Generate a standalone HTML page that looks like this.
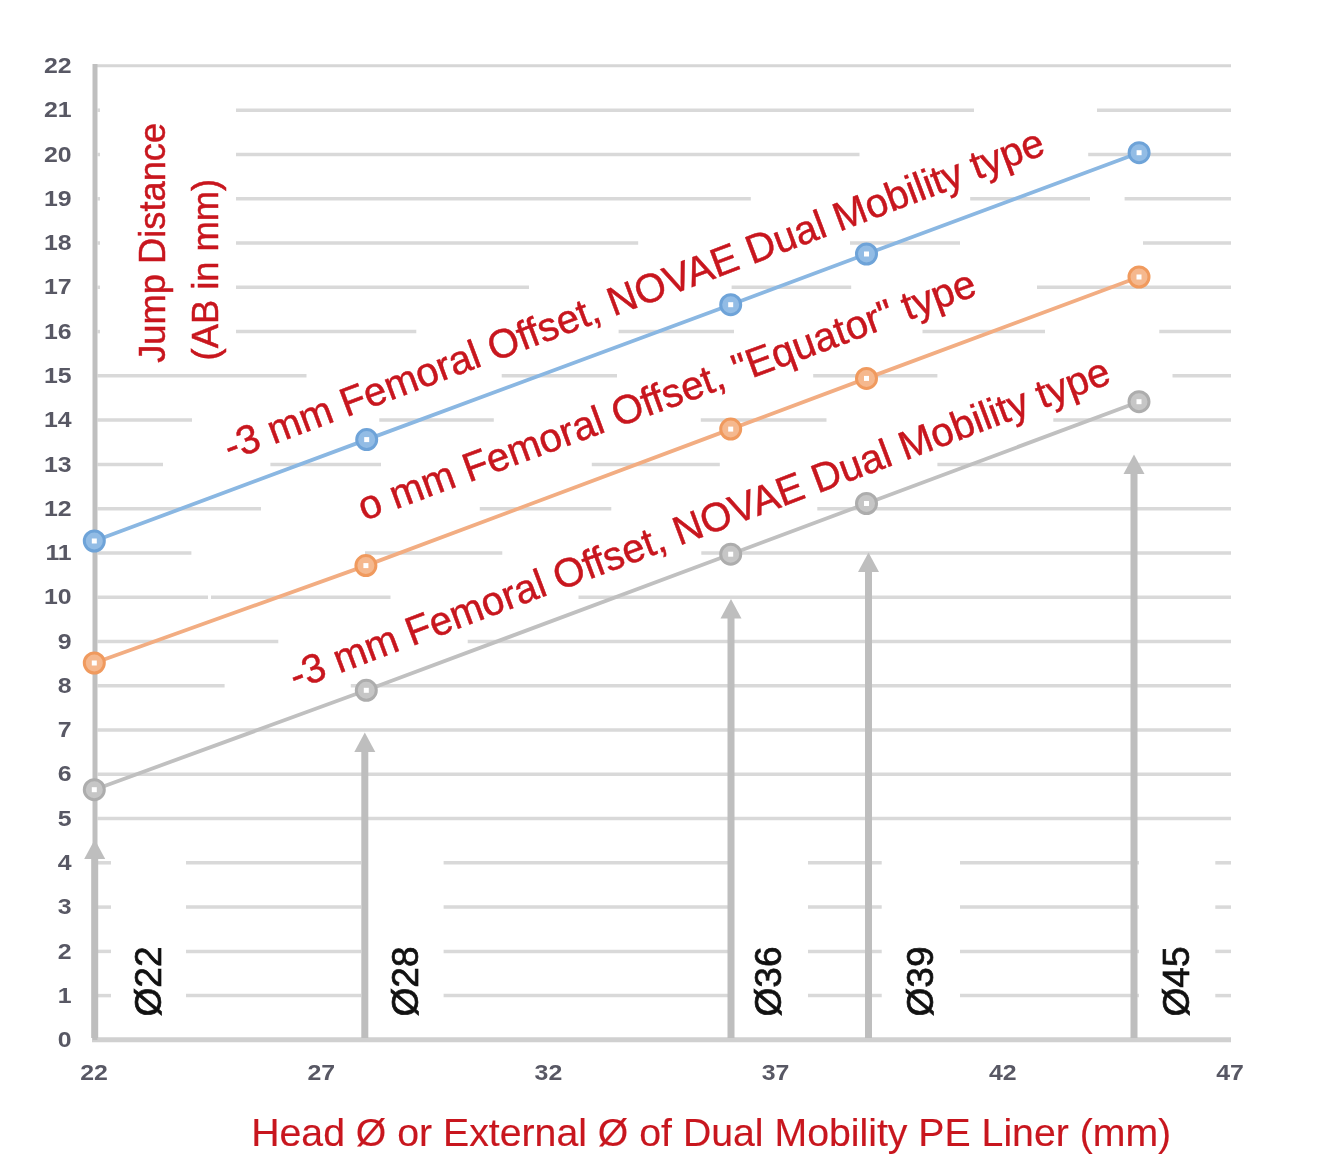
<!DOCTYPE html>
<html><head><meta charset="utf-8"><style>
html,body{margin:0;padding:0;background:#fff;}
body{width:1329px;height:1172px;overflow:hidden;}
svg{display:block;filter:blur(0.5px);}
text{font-family:"Liberation Sans",sans-serif;}
</style></head><body>
<svg width="1329" height="1172" viewBox="0 0 1329 1172">
<rect width="1329" height="1172" fill="#fff"/>

<line x1="97.5" y1="995.6" x2="111" y2="995.6" stroke="#d9d9d9" stroke-width="3.5"/>
<line x1="186" y1="995.6" x2="361" y2="995.6" stroke="#d9d9d9" stroke-width="3.5"/>
<line x1="443.6" y1="995.6" x2="728" y2="995.6" stroke="#d9d9d9" stroke-width="3.5"/>
<line x1="808" y1="995.6" x2="881.7" y2="995.6" stroke="#d9d9d9" stroke-width="3.5"/>
<line x1="960" y1="995.6" x2="1139" y2="995.6" stroke="#d9d9d9" stroke-width="3.5"/>
<line x1="1215.3" y1="995.6" x2="1231" y2="995.6" stroke="#d9d9d9" stroke-width="3.5"/>
<line x1="97.5" y1="951.4" x2="111" y2="951.4" stroke="#d9d9d9" stroke-width="3.5"/>
<line x1="186" y1="951.4" x2="361" y2="951.4" stroke="#d9d9d9" stroke-width="3.5"/>
<line x1="443.6" y1="951.4" x2="728" y2="951.4" stroke="#d9d9d9" stroke-width="3.5"/>
<line x1="808" y1="951.4" x2="881.7" y2="951.4" stroke="#d9d9d9" stroke-width="3.5"/>
<line x1="960" y1="951.4" x2="1139" y2="951.4" stroke="#d9d9d9" stroke-width="3.5"/>
<line x1="1215.3" y1="951.4" x2="1231" y2="951.4" stroke="#d9d9d9" stroke-width="3.5"/>
<line x1="97.5" y1="907.1" x2="111" y2="907.1" stroke="#d9d9d9" stroke-width="3.5"/>
<line x1="186" y1="907.1" x2="361" y2="907.1" stroke="#d9d9d9" stroke-width="3.5"/>
<line x1="443.6" y1="907.1" x2="728" y2="907.1" stroke="#d9d9d9" stroke-width="3.5"/>
<line x1="808" y1="907.1" x2="881.7" y2="907.1" stroke="#d9d9d9" stroke-width="3.5"/>
<line x1="960" y1="907.1" x2="1139" y2="907.1" stroke="#d9d9d9" stroke-width="3.5"/>
<line x1="1215.3" y1="907.1" x2="1231" y2="907.1" stroke="#d9d9d9" stroke-width="3.5"/>
<line x1="97.5" y1="862.8" x2="111" y2="862.8" stroke="#d9d9d9" stroke-width="3.5"/>
<line x1="186" y1="862.8" x2="361" y2="862.8" stroke="#d9d9d9" stroke-width="3.5"/>
<line x1="443.6" y1="862.8" x2="728" y2="862.8" stroke="#d9d9d9" stroke-width="3.5"/>
<line x1="808" y1="862.8" x2="881.7" y2="862.8" stroke="#d9d9d9" stroke-width="3.5"/>
<line x1="960" y1="862.8" x2="1139" y2="862.8" stroke="#d9d9d9" stroke-width="3.5"/>
<line x1="1215.3" y1="862.8" x2="1231" y2="862.8" stroke="#d9d9d9" stroke-width="3.5"/>
<line x1="97.5" y1="818.6" x2="1231" y2="818.6" stroke="#d9d9d9" stroke-width="3.5"/>
<line x1="97.5" y1="774.3" x2="1231" y2="774.3" stroke="#d9d9d9" stroke-width="3.5"/>
<line x1="97.5" y1="730.0" x2="1231" y2="730.0" stroke="#d9d9d9" stroke-width="3.5"/>
<line x1="97.5" y1="685.7" x2="224.6" y2="685.7" stroke="#d9d9d9" stroke-width="3.5"/>
<line x1="350.8" y1="685.7" x2="1231" y2="685.7" stroke="#d9d9d9" stroke-width="3.5"/>
<line x1="97.5" y1="641.5" x2="278.3" y2="641.5" stroke="#d9d9d9" stroke-width="3.5"/>
<line x1="467.7" y1="641.5" x2="1231" y2="641.5" stroke="#d9d9d9" stroke-width="3.5"/>
<line x1="97.5" y1="597.2" x2="208" y2="597.2" stroke="#d9d9d9" stroke-width="3.5"/>
<line x1="211" y1="597.2" x2="390.5" y2="597.2" stroke="#d9d9d9" stroke-width="3.5"/>
<line x1="578.5" y1="597.2" x2="1231" y2="597.2" stroke="#d9d9d9" stroke-width="3.5"/>
<line x1="97.5" y1="552.9" x2="191.4" y2="552.9" stroke="#d9d9d9" stroke-width="3.5"/>
<line x1="365" y1="552.9" x2="502.3" y2="552.9" stroke="#d9d9d9" stroke-width="3.5"/>
<line x1="701.3" y1="552.9" x2="1231" y2="552.9" stroke="#d9d9d9" stroke-width="3.5"/>
<line x1="97.5" y1="508.7" x2="261" y2="508.7" stroke="#d9d9d9" stroke-width="3.5"/>
<line x1="479.8" y1="508.7" x2="611.3" y2="508.7" stroke="#d9d9d9" stroke-width="3.5"/>
<line x1="817.3" y1="508.7" x2="1231" y2="508.7" stroke="#d9d9d9" stroke-width="3.5"/>
<line x1="97.5" y1="464.4" x2="163" y2="464.4" stroke="#d9d9d9" stroke-width="3.5"/>
<line x1="270.4" y1="464.4" x2="381" y2="464.4" stroke="#d9d9d9" stroke-width="3.5"/>
<line x1="591.8" y1="464.4" x2="719.8" y2="464.4" stroke="#d9d9d9" stroke-width="3.5"/>
<line x1="937.4" y1="464.4" x2="1231" y2="464.4" stroke="#d9d9d9" stroke-width="3.5"/>
<line x1="97.5" y1="420.1" x2="192" y2="420.1" stroke="#d9d9d9" stroke-width="3.5"/>
<line x1="379.3" y1="420.1" x2="493.8" y2="420.1" stroke="#d9d9d9" stroke-width="3.5"/>
<line x1="700.8" y1="420.1" x2="826.5" y2="420.1" stroke="#d9d9d9" stroke-width="3.5"/>
<line x1="1053.3" y1="420.1" x2="1231" y2="420.1" stroke="#d9d9d9" stroke-width="3.5"/>
<line x1="97.5" y1="375.8" x2="306.5" y2="375.8" stroke="#d9d9d9" stroke-width="3.5"/>
<line x1="501.7" y1="375.8" x2="617" y2="375.8" stroke="#d9d9d9" stroke-width="3.5"/>
<line x1="813.2" y1="375.8" x2="937.4" y2="375.8" stroke="#d9d9d9" stroke-width="3.5"/>
<line x1="1172.5" y1="375.8" x2="1231" y2="375.8" stroke="#d9d9d9" stroke-width="3.5"/>
<line x1="97.5" y1="331.6" x2="100" y2="331.6" stroke="#d9d9d9" stroke-width="3.5"/>
<line x1="236" y1="331.6" x2="416.3" y2="331.6" stroke="#d9d9d9" stroke-width="3.5"/>
<line x1="618.6" y1="331.6" x2="734" y2="331.6" stroke="#d9d9d9" stroke-width="3.5"/>
<line x1="922.5" y1="331.6" x2="1045" y2="331.6" stroke="#d9d9d9" stroke-width="3.5"/>
<line x1="1159.3" y1="331.6" x2="1231" y2="331.6" stroke="#d9d9d9" stroke-width="3.5"/>
<line x1="97.5" y1="287.3" x2="100" y2="287.3" stroke="#d9d9d9" stroke-width="3.5"/>
<line x1="236" y1="287.3" x2="529" y2="287.3" stroke="#d9d9d9" stroke-width="3.5"/>
<line x1="731.6" y1="287.3" x2="851.2" y2="287.3" stroke="#d9d9d9" stroke-width="3.5"/>
<line x1="1037" y1="287.3" x2="1231" y2="287.3" stroke="#d9d9d9" stroke-width="3.5"/>
<line x1="97.5" y1="243.0" x2="100" y2="243.0" stroke="#d9d9d9" stroke-width="3.5"/>
<line x1="236" y1="243.0" x2="638.2" y2="243.0" stroke="#d9d9d9" stroke-width="3.5"/>
<line x1="850" y1="243.0" x2="960" y2="243.0" stroke="#d9d9d9" stroke-width="3.5"/>
<line x1="1143" y1="243.0" x2="1231" y2="243.0" stroke="#d9d9d9" stroke-width="3.5"/>
<line x1="97.5" y1="198.8" x2="100" y2="198.8" stroke="#d9d9d9" stroke-width="3.5"/>
<line x1="236" y1="198.8" x2="750.8" y2="198.8" stroke="#d9d9d9" stroke-width="3.5"/>
<line x1="970.2" y1="198.8" x2="1090" y2="198.8" stroke="#d9d9d9" stroke-width="3.5"/>
<line x1="1124.6" y1="198.8" x2="1231" y2="198.8" stroke="#d9d9d9" stroke-width="3.5"/>
<line x1="97.5" y1="154.5" x2="100" y2="154.5" stroke="#d9d9d9" stroke-width="3.5"/>
<line x1="236" y1="154.5" x2="859.5" y2="154.5" stroke="#d9d9d9" stroke-width="3.5"/>
<line x1="1088.2" y1="154.5" x2="1231" y2="154.5" stroke="#d9d9d9" stroke-width="3.5"/>
<line x1="97.5" y1="110.2" x2="100" y2="110.2" stroke="#d9d9d9" stroke-width="3.5"/>
<line x1="236" y1="110.2" x2="974" y2="110.2" stroke="#d9d9d9" stroke-width="3.5"/>
<line x1="1097" y1="110.2" x2="1231" y2="110.2" stroke="#d9d9d9" stroke-width="3.5"/>
<line x1="93" y1="65.8" x2="1231" y2="65.8" stroke="#d6d6d6" stroke-width="3"/>
<line x1="92" y1="1039.7" x2="1231" y2="1039.7" stroke="#d0d0d0" stroke-width="5"/>
<line x1="95" y1="64" x2="95" y2="1040" stroke="#bfbfbf" stroke-width="5"/>
<rect x="91.2" y="858.1" width="7" height="179.89999999999998" fill="#bebebe"/>
<polygon points="94.7,839.6 105.2,859.1 84.2,859.1" fill="#bebebe"/>
<rect x="361.3" y="750.9" width="7" height="287.1" fill="#bebebe"/>
<polygon points="364.8,732.4 375.3,751.9 354.3,751.9" fill="#bebebe"/>
<rect x="727.5" y="617.4" width="7" height="420.6" fill="#bebebe"/>
<polygon points="731,598.9 741.5,618.4 720.5,618.4" fill="#bebebe"/>
<rect x="865.0" y="571.0" width="7" height="467.0" fill="#bebebe"/>
<polygon points="868.5,552.5 879.0,572.0 858.0,572.0" fill="#bebebe"/>
<rect x="1130.5" y="473.0" width="7" height="565.0" fill="#bebebe"/>
<polygon points="1134,454.5 1144.5,474.0 1123.5,474.0" fill="#bebebe"/>
<polyline points="94.3,541 366.7,439.6 730.7,304.7 866.5,254 1139.1,152.7" fill="none" stroke="#8ab7e2" stroke-width="3.8" stroke-linejoin="round"/>
<circle cx="94.3" cy="541" r="10" fill="#92bce5" stroke="#6ea3d8" stroke-width="3"/>
<rect x="91.8" y="538.5" width="5" height="5" fill="#fff"/>
<circle cx="366.7" cy="439.6" r="10" fill="#92bce5" stroke="#6ea3d8" stroke-width="3"/>
<rect x="364.2" y="437.1" width="5" height="5" fill="#fff"/>
<circle cx="730.7" cy="304.7" r="10" fill="#92bce5" stroke="#6ea3d8" stroke-width="3"/>
<rect x="728.2" y="302.2" width="5" height="5" fill="#fff"/>
<circle cx="866.5" cy="254" r="10" fill="#92bce5" stroke="#6ea3d8" stroke-width="3"/>
<rect x="864.0" y="251.5" width="5" height="5" fill="#fff"/>
<circle cx="1139.1" cy="152.7" r="10" fill="#92bce5" stroke="#6ea3d8" stroke-width="3"/>
<rect x="1136.6" y="150.2" width="5" height="5" fill="#fff"/>
<polyline points="94.3,663 365.9,565.6 730.7,429.1 866.5,378.4 1139,277" fill="none" stroke="#f2ad82" stroke-width="3.8" stroke-linejoin="round"/>
<circle cx="94.3" cy="663" r="10" fill="#f5b88e" stroke="#f09a5e" stroke-width="3"/>
<rect x="91.8" y="660.5" width="5" height="5" fill="#fff"/>
<circle cx="365.9" cy="565.6" r="10" fill="#f5b88e" stroke="#f09a5e" stroke-width="3"/>
<rect x="363.4" y="563.1" width="5" height="5" fill="#fff"/>
<circle cx="730.7" cy="429.1" r="10" fill="#f5b88e" stroke="#f09a5e" stroke-width="3"/>
<rect x="728.2" y="426.6" width="5" height="5" fill="#fff"/>
<circle cx="866.5" cy="378.4" r="10" fill="#f5b88e" stroke="#f09a5e" stroke-width="3"/>
<rect x="864.0" y="375.9" width="5" height="5" fill="#fff"/>
<circle cx="1139" cy="277" r="10" fill="#f5b88e" stroke="#f09a5e" stroke-width="3"/>
<rect x="1136.5" y="274.5" width="5" height="5" fill="#fff"/>
<polyline points="94.3,789.7 366.3,690.3 730.7,554.2 866.5,503.5 1139,401.7" fill="none" stroke="#c0c0c0" stroke-width="3.8" stroke-linejoin="round"/>
<circle cx="94.3" cy="789.7" r="10" fill="#c6c6c6" stroke="#adadad" stroke-width="3"/>
<rect x="91.8" y="787.2" width="5" height="5" fill="#fff"/>
<circle cx="366.3" cy="690.3" r="10" fill="#c6c6c6" stroke="#adadad" stroke-width="3"/>
<rect x="363.8" y="687.8" width="5" height="5" fill="#fff"/>
<circle cx="730.7" cy="554.2" r="10" fill="#c6c6c6" stroke="#adadad" stroke-width="3"/>
<rect x="728.2" y="551.7" width="5" height="5" fill="#fff"/>
<circle cx="866.5" cy="503.5" r="10" fill="#c6c6c6" stroke="#adadad" stroke-width="3"/>
<rect x="864.0" y="501.0" width="5" height="5" fill="#fff"/>
<circle cx="1139" cy="401.7" r="10" fill="#c6c6c6" stroke="#adadad" stroke-width="3"/>
<rect x="1136.5" y="399.2" width="5" height="5" fill="#fff"/>
<text transform="translate(71.7,1047.0) scale(1.13,1)" text-anchor="end" font-size="22" font-weight="bold" fill="#585864">0</text>
<text transform="translate(71.7,1002.7) scale(1.13,1)" text-anchor="end" font-size="22" font-weight="bold" fill="#585864">1</text>
<text transform="translate(71.7,958.5) scale(1.13,1)" text-anchor="end" font-size="22" font-weight="bold" fill="#585864">2</text>
<text transform="translate(71.7,914.2) scale(1.13,1)" text-anchor="end" font-size="22" font-weight="bold" fill="#585864">3</text>
<text transform="translate(71.7,869.9) scale(1.13,1)" text-anchor="end" font-size="22" font-weight="bold" fill="#585864">4</text>
<text transform="translate(71.7,825.6) scale(1.13,1)" text-anchor="end" font-size="22" font-weight="bold" fill="#585864">5</text>
<text transform="translate(71.7,781.4) scale(1.13,1)" text-anchor="end" font-size="22" font-weight="bold" fill="#585864">6</text>
<text transform="translate(71.7,737.1) scale(1.13,1)" text-anchor="end" font-size="22" font-weight="bold" fill="#585864">7</text>
<text transform="translate(71.7,692.8) scale(1.13,1)" text-anchor="end" font-size="22" font-weight="bold" fill="#585864">8</text>
<text transform="translate(71.7,648.6) scale(1.13,1)" text-anchor="end" font-size="22" font-weight="bold" fill="#585864">9</text>
<text transform="translate(71.7,604.3) scale(1.13,1)" text-anchor="end" font-size="22" font-weight="bold" fill="#585864">10</text>
<text transform="translate(71.7,560.0) scale(1.13,1)" text-anchor="end" font-size="22" font-weight="bold" fill="#585864">11</text>
<text transform="translate(71.7,515.8) scale(1.13,1)" text-anchor="end" font-size="22" font-weight="bold" fill="#585864">12</text>
<text transform="translate(71.7,471.5) scale(1.13,1)" text-anchor="end" font-size="22" font-weight="bold" fill="#585864">13</text>
<text transform="translate(71.7,427.2) scale(1.13,1)" text-anchor="end" font-size="22" font-weight="bold" fill="#585864">14</text>
<text transform="translate(71.7,382.9) scale(1.13,1)" text-anchor="end" font-size="22" font-weight="bold" fill="#585864">15</text>
<text transform="translate(71.7,338.7) scale(1.13,1)" text-anchor="end" font-size="22" font-weight="bold" fill="#585864">16</text>
<text transform="translate(71.7,294.4) scale(1.13,1)" text-anchor="end" font-size="22" font-weight="bold" fill="#585864">17</text>
<text transform="translate(71.7,250.1) scale(1.13,1)" text-anchor="end" font-size="22" font-weight="bold" fill="#585864">18</text>
<text transform="translate(71.7,205.9) scale(1.13,1)" text-anchor="end" font-size="22" font-weight="bold" fill="#585864">19</text>
<text transform="translate(71.7,161.6) scale(1.13,1)" text-anchor="end" font-size="22" font-weight="bold" fill="#585864">20</text>
<text transform="translate(71.7,117.3) scale(1.13,1)" text-anchor="end" font-size="22" font-weight="bold" fill="#585864">21</text>
<text transform="translate(71.7,73.1) scale(1.13,1)" text-anchor="end" font-size="22" font-weight="bold" fill="#585864">22</text>
<text transform="translate(94.0,1079.7) scale(1.13,1)" text-anchor="middle" font-size="22" font-weight="bold" fill="#585864">22</text>
<text transform="translate(321.2,1079.7) scale(1.13,1)" text-anchor="middle" font-size="22" font-weight="bold" fill="#585864">27</text>
<text transform="translate(548.4,1079.7) scale(1.13,1)" text-anchor="middle" font-size="22" font-weight="bold" fill="#585864">32</text>
<text transform="translate(775.6,1079.7) scale(1.13,1)" text-anchor="middle" font-size="22" font-weight="bold" fill="#585864">37</text>
<text transform="translate(1002.8,1079.7) scale(1.13,1)" text-anchor="middle" font-size="22" font-weight="bold" fill="#585864">42</text>
<text transform="translate(1230.0,1079.7) scale(1.13,1)" text-anchor="middle" font-size="22" font-weight="bold" fill="#585864">47</text>
<text transform="translate(165.4,362.8) rotate(-90)" font-size="36" fill="#c8161e" stroke="#c8161e" stroke-width="0.5" textLength="240" lengthAdjust="spacingAndGlyphs">Jump Distance</text>
<text transform="translate(218,360.4) rotate(-90)" font-size="36" fill="#c8161e" stroke="#c8161e" stroke-width="0.5" textLength="181.6" lengthAdjust="spacingAndGlyphs">(AB in mm)</text>
<text transform="translate(161.3,1016.5) rotate(-90)" font-size="36" fill="#111" stroke="#111" stroke-width="0.7" textLength="70" lengthAdjust="spacingAndGlyphs">Ø22</text>
<text transform="translate(418,1016.5) rotate(-90)" font-size="36" fill="#111" stroke="#111" stroke-width="0.7" textLength="70" lengthAdjust="spacingAndGlyphs">Ø28</text>
<text transform="translate(781.3,1016.5) rotate(-90)" font-size="36" fill="#111" stroke="#111" stroke-width="0.7" textLength="70" lengthAdjust="spacingAndGlyphs">Ø36</text>
<text transform="translate(933.3,1016.5) rotate(-90)" font-size="36" fill="#111" stroke="#111" stroke-width="0.7" textLength="70" lengthAdjust="spacingAndGlyphs">Ø39</text>
<text transform="translate(1188.6,1016.5) rotate(-90)" font-size="36" fill="#111" stroke="#111" stroke-width="0.7" textLength="70" lengthAdjust="spacingAndGlyphs">Ø45</text>
<text transform="translate(230,460.9) rotate(-20.62)" font-size="40.5" fill="#c8161e" stroke="#c8161e" stroke-width="0.5" textLength="873" lengthAdjust="spacingAndGlyphs">-3 mm Femoral Offset, NOVAE Dual Mobility type</text>
<text transform="translate(364,521) rotate(-20.23)" font-size="40.5" fill="#c8161e" stroke="#c8161e" stroke-width="0.5" textLength="655.2" lengthAdjust="spacingAndGlyphs">o mm Femoral Offset, &quot;Equator&quot; type</text>
<text transform="translate(295.5,690) rotate(-20.62)" font-size="40.5" fill="#c8161e" stroke="#c8161e" stroke-width="0.5" textLength="873.2" lengthAdjust="spacingAndGlyphs">-3 mm Femoral Offset, NOVAE Dual Mobility type</text>
<text x="251.2" y="1146" font-size="39.5" fill="#c8161e" stroke="#c8161e" stroke-width="0.15" textLength="920" lengthAdjust="spacingAndGlyphs">Head Ø or External Ø of Dual Mobility PE Liner (mm)</text>
</svg></body></html>
